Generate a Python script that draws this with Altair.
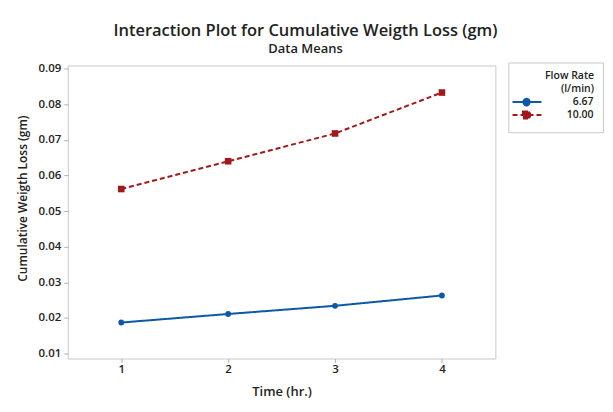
import altair as alt
import pandas as pd

times = [1, 2, 3, 4]
flow_rates = ["6.67", "10.00"]
loss_667 = [0.0187, 0.0211, 0.0234, 0.0263]
loss_1000 = [0.0562, 0.0640, 0.0718, 0.0833]

rows = []
for t, v in zip(times, loss_667):
    rows.append({"Time": t, "Flow Rate": "6.67", "Loss": v})
for t, v in zip(times, loss_1000):
    rows.append({"Time": t, "Flow Rate": "10.00", "Loss": v})
df = pd.DataFrame(rows)

BLUE = "#0E58A8"
RED = "#A01A1C"
FONT = "Open Sans"

color_scale = alt.Scale(domain=flow_rates, range=[BLUE, RED])
dash_scale = alt.Scale(domain=flow_rates, range=[[1, 0], [5, 3]])
# legend glyphs: a line segment with the series marker on it
shape_paths = [
    "M-2.86,0H5.43M0.29,0A0.86,0.86 0 1,0 2.0,0A0.86,0.86 0 1,0 0.29,0Z",
    "M-2.86,0H5.43M0.14,-1H2.14V1H0.14Z",
]
shape_scale = alt.Scale(domain=flow_rates, range=shape_paths)

x_enc = alt.X(
    "Time:Q",
    title="Time (hr.)",
    scale=alt.Scale(domain=[0.5, 4.5], nice=False),
    axis=alt.Axis(values=times, format="d", grid=False, domain=False,
                  tickColor="#b0b0b0", tickSize=4, labelPadding=1,
                  labelFontSize=11.5, labelFontWeight=600, labelColor="#222",
                  titleFontSize=13, titleFontWeight=600, titleColor="#222",
                  titlePadding=11, labelFont=FONT, titleFont=FONT),
)
y_enc = alt.Y(
    "Loss:Q",
    title="Cumulative Weigth Loss (gm)",
    scale=alt.Scale(domain=[0.0086, 0.0909], nice=False, zero=False),
    axis=alt.Axis(values=[0.01, 0.02, 0.03, 0.04, 0.05, 0.06, 0.07, 0.08, 0.09],
                  format=".2f", grid=False, domain=False,
                  tickColor="#b0b0b0", tickSize=4, labelPadding=3,
                  labelFontSize=11.5, labelFontWeight=600, labelColor="#222",
                  titleFontSize=12, titleFontWeight=600, titleColor="#222",
                  titlePadding=9, titleY=133, labelFont=FONT, titleFont=FONT),
)

legend = alt.Legend(
    title=["Flow Rate", "(l/min)"],
    orient="none", legendX=442, legendY=-3,
    symbolSize=49, symbolStrokeWidth=2,
    strokeColor="#c8c8c8", padding=9, cornerRadius=0,
    titleFont=FONT, titleFontSize=10.5, titleFontWeight=600, titleColor="#222",
    titleAlign="right", titleAnchor="end", titlePadding=2, titleLineHeight=13,
    labelFont=FONT, labelFontSize=10.5, labelFontWeight=600, labelColor="#222",
    labelAlign="right", labelOffset=66, rowPadding=-5,
)

base = alt.Chart(df)

lines = base.mark_line(strokeWidth=2).encode(
    x=x_enc, y=y_enc,
    stroke=alt.Stroke("Flow Rate:N", scale=color_scale, legend=legend),
    strokeDash=alt.StrokeDash("Flow Rate:N", scale=dash_scale, legend=legend),
)

circles = base.transform_filter(alt.datum["Flow Rate"] == "6.67").mark_point(
    shape="circle", filled=True, size=34, opacity=1
).encode(x=x_enc, y=y_enc, fill=alt.Fill("Flow Rate:N", scale=color_scale, legend=legend))

squares = base.transform_filter(alt.datum["Flow Rate"] == "10.00").mark_point(
    shape="square", filled=True, size=44, opacity=1
).encode(x=x_enc, y=y_enc, fill=alt.Fill("Flow Rate:N", scale=color_scale, legend=legend))

legend_layer = base.transform_filter("false").mark_point(filled=True, opacity=1).encode(
    x=x_enc, y=y_enc,
    shape=alt.Shape("Flow Rate:N", scale=shape_scale, legend=legend),
    stroke=alt.Stroke("Flow Rate:N", scale=color_scale, legend=legend),
    fill=alt.Fill("Flow Rate:N", scale=color_scale, legend=legend),
    strokeDash=alt.StrokeDash("Flow Rate:N", scale=dash_scale, legend=legend),
)

chart = alt.layer(lines, circles, squares, legend_layer).properties(
    width=429,
    height=294,
    padding={"left": 60, "top": 57, "right": 110, "bottom": 45},
    autosize=alt.AutoSizeParams(type="none"),
    title=alt.TitleParams(
        text="Interaction Plot for Cumulative Weigth Loss (gm)",
        subtitle="Data Means",
        font=FONT, fontSize=16.5, fontWeight=600, color="#222",
        subtitleFont=FONT, subtitleFontSize=13, subtitleFontWeight=600,
        subtitleColor="#222", subtitlePadding=4,
        anchor="middle", dx=24, offset=6,
    ),
).configure_view(stroke="#c8c8c8", strokeWidth=1)

chart.save("out.html", embed_options={"renderer": "svg", "actions": False})
